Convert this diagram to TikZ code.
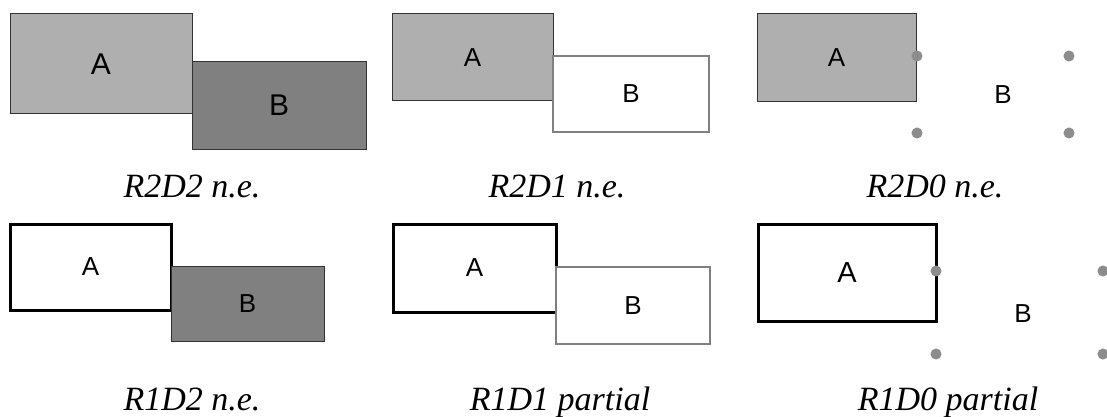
\documentclass[tikz,border=0pt]{standalone}
\usepackage{fontspec}
\setmainfont{Liberation Serif}
\setsansfont{Liberation Sans}
\definecolor{lgray}{HTML}{AFAFAF}
\definecolor{dgray}{HTML}{808080}
\definecolor{edge}{HTML}{333333}
\definecolor{dotc}{HTML}{8C8C8C}
\begin{document}
\begin{tikzpicture}[x=1pt,y=-1pt,
  box/.style={rectangle,inner sep=0pt,outer sep=0pt,font=\sffamily\fontsize{26}{26}\selectfont},
  lfill/.style={box,fill=lgray,draw=edge,line width=1pt},
  dfill/.style={box,fill=dgray,draw=edge,line width=1pt},
  gedge/.style={box,fill=white,draw=dgray,line width=2.6pt},
  bedge/.style={box,fill=white,draw=black,line width=3pt},
  dotn/.style={circle,fill=dotc,draw=dotc,line width=1pt,inner sep=0pt,minimum size=10pt},
  lbl/.style={font=\sffamily\fontsize{26}{26}\selectfont,inner sep=0pt},
  captxt/.style={font=\itshape\fontsize{34}{34}\selectfont,anchor=base,inner sep=0pt}]
\useasboundingbox (0,0) rectangle (1107,417);
% panel 1
\node[lfill,minimum width=182pt,minimum height=100pt,font=\sffamily\fontsize{30}{30}\selectfont] (a1) at (101,64) {A};
\node[dfill,minimum width=174pt,minimum height=87pt,font=\sffamily\fontsize{30}{30}\selectfont] (b1) at (279,105.5) {B};
\node[captxt] (c1) at (192,197) {R2D2 n.e.};
% panel 2
\node[lfill,minimum width=161pt,minimum height=87pt] (a2) at (472.5,57.5) {A};
\node[gedge,minimum width=156pt,minimum height=76pt] (b2) at (631,94) {B};
\node[captxt] (c2) at (557,197) {R2D1 n.e.};
% panel 3
\node[lfill,minimum width=159pt,minimum height=88pt] (a3) at (836.5,58) {A};
\node[dotn] (d31) at (917,56) {};
\node[dotn] (d32) at (1069,56) {};
\node[dotn] (d33) at (917,133) {};
\node[dotn] (d34) at (1069,133) {};
\node[lbl] (b3) at (1003,95) {B};
\node[captxt] (c3) at (935,197) {R2D0 n.e.};
% panel 4
\node[bedge,minimum width=161pt,minimum height=86pt] (a4) at (90.5,267) {A};
\node[dfill,minimum width=153pt,minimum height=75pt] (b4) at (247.5,303.5) {B};
\node[captxt] (c4) at (192,410) {R1D2 n.e.};
% panel 5
\node[bedge,minimum width=163pt,minimum height=88pt] (a5) at (474.5,268) {A};
\node[gedge,minimum width=154pt,minimum height=77pt] (b5) at (633,305.5) {B};
\node[captxt] (c5) at (560,410) {R1D1 partial};
% panel 6
\node[bedge,minimum width=178pt,minimum height=97pt,font=\sffamily\fontsize{29}{29}\selectfont] (a6) at (847,272.5) {A};
\node[dotn] (d61) at (936,271) {};
\node[dotn] (d62) at (1103,271) {};
\node[dotn] (d63) at (936,354) {};
\node[dotn] (d64) at (1103,354) {};
\node[lbl] (b6) at (1023,314) {B};
\node[captxt] (c6) at (948,410) {R1D0 partial};
\end{tikzpicture}
\end{document}
